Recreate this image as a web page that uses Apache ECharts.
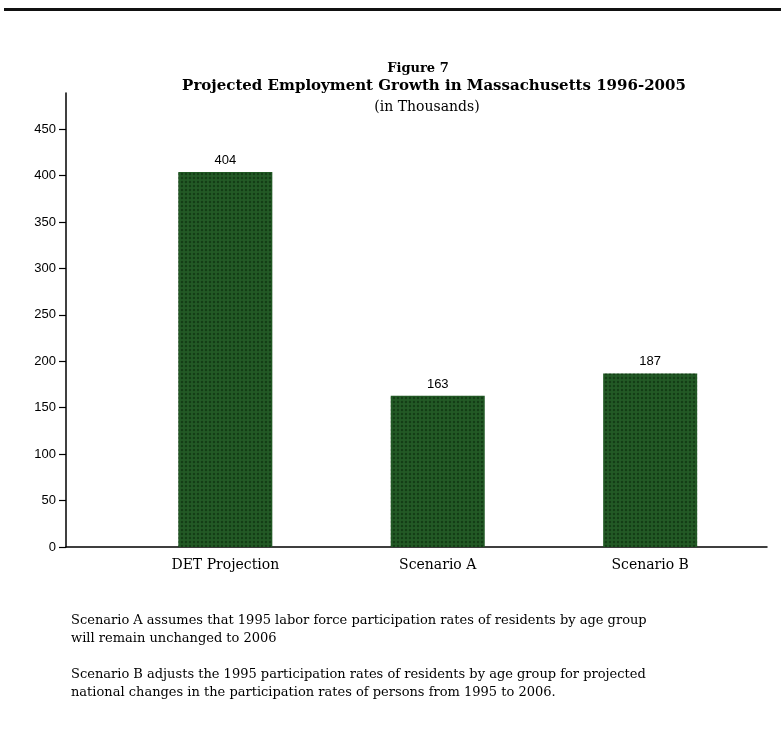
<!DOCTYPE html>
<html>
<head>
<meta charset="utf-8">
<script src="https://cdn.jsdelivr.net/npm/echarts@6/dist/echarts.min.js"></script>
<style>
  html, body { margin: 0; padding: 0; background: #fff; }
  #chart { width: 781px; height: 739px; }
</style>
</head>
<body>
<div id="chart"></div>
<script>
// data
const categories = ["DET Projection", "Scenario A", "Scenario B"];
const growth = [404, 163, 187];
const yTicks = [0, 50, 100, 150, 200, 250, 300, 350, 400, 450];
const notes = [
  "Scenario A assumes that 1995 labor force participation rates of residents by age group",
  "will remain unchanged to 2006",
  "",
  "Scenario B adjusts the 1995 participation rates of residents by age group for projected",
  "national changes in the participation rates of persons from 1995 to 2006."
];

const serif = "'DejaVu Serif', 'Liberation Serif', serif";
const sans = "'Liberation Sans', Arial, sans-serif";

const chart = echarts.init(document.getElementById("chart"));

chart.setOption({
  backgroundColor: "#fff",
  animation: false,
  title: [
    {
      text: "Figure 7",
      left: 413, top: 57, textAlign: "center",
      textStyle: { fontFamily: serif, fontWeight: "bold", fontSize: 13, color: "#000" }
    },
    {
      text: "Projected Employment Growth in Massachusetts 1996-2005",
      left: 429, top: 74, textAlign: "center",
      textStyle: { fontFamily: serif, fontWeight: "bold", fontSize: 15, color: "#000" }
    },
    {
      text: "(in Thousands)",
      left: 422, top: 95, textAlign: "center",
      textStyle: { fontFamily: serif, fontWeight: "normal", fontSize: 14, color: "#000" }
    }
  ],
  grid: { left: 66, right: 14, top: 93, bottom: 192, containLabel: false },
  xAxis: {
    type: "value",
    min: 0.25,
    max: 3.55,
    splitLine: { show: false },
    axisLine: { show: true, onZero: false, lineStyle: { color: "#000", width: 1.5 } },
    axisTick: { show: false },
    axisLabel: {
      customValues: [1, 2, 3],
      formatter: v => categories[Math.round(v) - 1] || "",
      fontFamily: serif, fontSize: 14, color: "#000", margin: 11
    }
  },
  yAxis: {
    type: "value",
    min: 0,
    max: 489,
    splitLine: { show: false },
    axisLine: { show: true, lineStyle: { color: "#000", width: 1.5 } },
    axisTick: { show: true, length: 7, customValues: yTicks, lineStyle: { color: "#000", width: 1.2 } },
    axisLabel: {
      customValues: yTicks,
      fontFamily: sans, fontSize: 13, color: "#000", margin: 10
    }
  },
  series: [
    {
      type: "bar",
      barWidth: 94,
      data: growth.map((v, i) => [i + 1, v]),
      itemStyle: {
        color: "#235a26",
        decal: {
          symbol: "diamond",
          symbolSize: 0.7,
          color: "rgba(0,25,0,0.5)",
          dashArrayX: [4, 0],
          dashArrayY: [4, 0],
          rotation: 0
        }
      },
      label: {
        show: true,
        position: "top",
        distance: 5,
        formatter: p => p.value[1],
        fontFamily: sans, fontSize: 13, color: "#000"
      }
    }
  ],
  graphic: [
    {
      type: "rect",
      shape: { x: 4, y: 8, width: 777, height: 3 },
      style: { fill: "#111" }
    },
    {
      type: "text",
      left: 71, top: 612,
      style: {
        text: notes.join("\n"),
        font: "13px " + serif,
        lineHeight: 18,
        fill: "#000"
      }
    }
  ]
});
</script>
</body>
</html>
